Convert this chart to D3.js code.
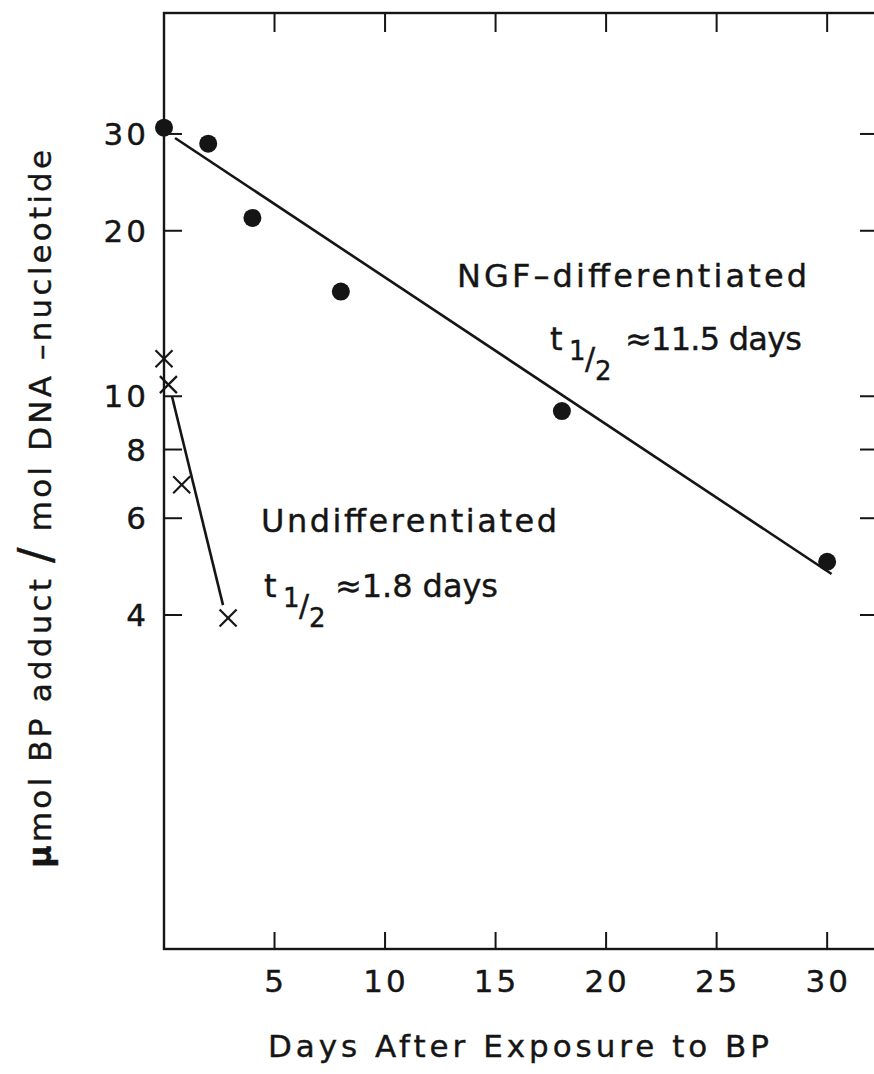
<!DOCTYPE html>
<html>
<head>
<meta charset="utf-8">
<script src="https://cdn.jsdelivr.net/npm/d3@7"></script>
<style>
  body { margin: 0; background: #fff; }
  text { font-family: "DejaVu Sans", "Liberation Sans", sans-serif; fill: #151515;
         stroke: #151515; stroke-width: 0.4px; }
</style>
</head>
<body>
<div id="chart"></div>
<script>
// data
var ngfDays = [0, 2, 4, 8, 18, 30];
var ngfValues = [30.8, 28.8, 21.1, 15.5, 9.4, 5.0];
var ngfFitDays = [0.5, 30.2];
var ngfFitValues = [29.5, 4.75];

var undiffDays = [0, 0.2, 0.8, 2.9];
var undiffValues = [11.7, 10.5, 6.9, 3.95];
var undiffFitDays = [0.36, 2.67];
var undiffFitValues = [10.0, 4.17];

var xTicks = [5, 10, 15, 20, 25, 30];
var yTicks = [30, 20, 10, 8, 6, 4];

var width = 874, height = 1074;
var svg = d3.select("#chart").append("svg")
  .attr("width", width).attr("height", height);

var xMax = 32.3;
var x = d3.scaleLinear().domain([0, xMax]).range([164, 878]);
var y = d3.scaleLog().domain([1, 50]).range([946, 12]);
var plotBottom = 949, plotTop = 13;

// frame
svg.append("rect")
  .attr("x", x(0)).attr("y", plotTop)
  .attr("width", x(xMax) - x(0)).attr("height", plotBottom - plotTop)
  .attr("fill", "none").attr("stroke", "#151515").attr("stroke-width", 2.4);

var tickLen = 17;
// bottom + top ticks (inward)
svg.append("g").selectAll("line").data(xTicks).enter().append("line")
  .attr("x1", d => x(d)).attr("x2", d => x(d))
  .attr("y1", plotBottom).attr("y2", plotBottom - tickLen)
  .attr("stroke", "#151515").attr("stroke-width", 2);
svg.append("g").selectAll("line").data(xTicks).enter().append("line")
  .attr("x1", d => x(d)).attr("x2", d => x(d))
  .attr("y1", plotTop).attr("y2", plotTop + tickLen + 2)
  .attr("stroke", "#151515").attr("stroke-width", 2);
svg.append("g").selectAll("text").data(xTicks).enter().append("text")
  .attr("x", d => x(d) + 1).attr("y", 992)
  .attr("text-anchor", "middle").style("font-size", "31px")
  .style("letter-spacing", "3px")
  .text(d => d);

// left + right ticks (inward)
svg.append("g").selectAll("line").data(yTicks).enter().append("line")
  .attr("x1", x(0)).attr("x2", x(0) + tickLen + 1)
  .attr("y1", d => y(d)).attr("y2", d => y(d))
  .attr("stroke", "#151515").attr("stroke-width", 2);
svg.append("g").selectAll("line").data(yTicks).enter().append("line")
  .attr("x1", x(xMax)).attr("x2", x(xMax) - tickLen - 1)
  .attr("y1", d => y(d)).attr("y2", d => y(d))
  .attr("stroke", "#151515").attr("stroke-width", 2);
svg.append("g").selectAll("text").data(yTicks).enter().append("text")
  .attr("x", 149).attr("y", d => y(d) + 11)
  .attr("text-anchor", "end").style("font-size", "31px")
  .style("letter-spacing", "3px")
  .text(d => d);

// fit lines
var line = d3.line().x(d => x(d[0])).y(d => y(d[1]));
svg.append("path")
  .datum(d3.zip(ngfFitDays, ngfFitValues))
  .attr("d", line).attr("fill", "none")
  .attr("stroke", "#151515").attr("stroke-width", 2.6);
svg.append("path")
  .datum(d3.zip(undiffFitDays, undiffFitValues))
  .attr("d", line).attr("fill", "none")
  .attr("stroke", "#151515").attr("stroke-width", 2.6);

// NGF points
svg.append("g").selectAll("circle")
  .data(d3.zip(ngfDays, ngfValues)).enter().append("circle")
  .attr("cx", d => x(d[0])).attr("cy", d => y(d[1]))
  .attr("r", 9).attr("fill", "#151515");

// undifferentiated crosses
var cs = 8.5;
var crosses = svg.append("g").selectAll("g")
  .data(d3.zip(undiffDays, undiffValues)).enter().append("g")
  .attr("transform", d => "translate(" + x(d[0]) + "," + y(d[1]) + ")");
crosses.append("line").attr("x1", -cs).attr("y1", -cs).attr("x2", cs).attr("y2", cs)
  .attr("stroke", "#151515").attr("stroke-width", 2.2);
crosses.append("line").attr("x1", -cs).attr("y1", cs).attr("x2", cs).attr("y2", -cs)
  .attr("stroke", "#151515").attr("stroke-width", 2.2);

// text stretched to the width it has in the figure
function label(x0, y0, str, len) {
  return svg.append("text").attr("x", x0).attr("y", y0)
    .style("font-size", "32px")
    .attr("textLength", len).attr("lengthAdjust", "spacing")
    .text(str);
}

// t with a 1/2 subscript, each piece its own text so they sit apart
function halfLife(x0, y0) {
  var g = svg.append("g");
  g.append("text").attr("x", x0).attr("y", y0).style("font-size", "32px").text("t");
  g.append("text").attr("x", x0 + 19).attr("y", y0 + 10).style("font-size", "26px").text("1");
  g.append("text").attr("x", x0 + 35).attr("y", y0 + 19).style("font-size", "30px").text("/");
  g.append("text").attr("x", x0 + 45).attr("y", y0 + 30).style("font-size", "26px").text("2");
}

label(457, 287, "NGF\u2013differentiated", 350);
halfLife(550, 350);
label(625, 350, "\u224811.5 days", 177);

label(261, 532, "Undifferentiated", 296);
halfLife(264, 597);
label(335, 597, "\u22481.8 days", 163);

// axis titles
svg.append("text").attr("x", 268).attr("y", 1057)
  .style("font-size", "31px")
  .attr("textLength", 501).attr("lengthAdjust", "spacing")
  .text("Days After Exposure to BP");

var yl = svg.append("text")
  .attr("transform", "translate(51,868) rotate(-90)")
  .attr("textLength", 718).attr("lengthAdjust", "spacing")
  .style("font-size", "31px");
yl.append("tspan").style("font-weight", "bold").text("\u03bc");
yl.append("tspan").text("mol BP adduct ");
yl.append("tspan").style("font-size", "46px").text("/");
yl.append("tspan").text(" mol DNA \u2013nucleotide");
</script>
</body>
</html>
